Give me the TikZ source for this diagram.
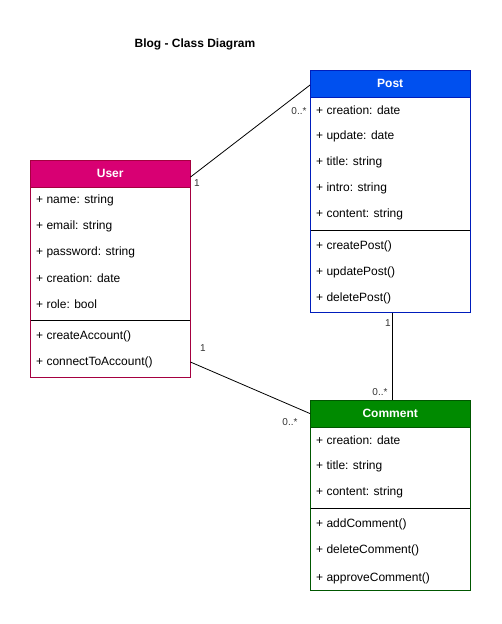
\documentclass[tikz,border=0pt]{standalone}
\usepackage{fontspec}
\setmainfont{Liberation Sans}
\definecolor{uFill}{HTML}{D80073}\definecolor{uLine}{HTML}{A50040}
\definecolor{pFill}{HTML}{0050EF}\definecolor{pLine}{HTML}{001DBC}
\definecolor{cFill}{HTML}{008A00}\definecolor{cLine}{HTML}{005700}
\begin{document}
\begin{tikzpicture}[x=1pt,y=-1pt,
  hdr/.style={draw, anchor=north west, minimum width=160pt, minimum height=26.7pt, inner sep=0pt, text=white, font=\bfseries\fontsize{12}{14}\selectfont},
  body/.style={draw, anchor=north west, minimum width=160pt, inner sep=0pt, fill=white},
  attr/.style={anchor=west, inner sep=0pt, font=\fontsize{12}{14}\selectfont},
  mult/.style={inner sep=0pt, text=black!80, font=\fontsize{10}{12}\selectfont},
  sep/.style={draw=black, line width=0.8pt},
  conn/.style={draw=black, line width=0.8pt}]
\useasboundingbox (0,0) rectangle (501,624);
\node[font=\bfseries\fontsize{12}{14}\selectfont] (title) at (195,44) {Blog - Class Diagram};
% User
\node[body, draw=uLine, minimum height=190pt] (userB) at (30,186.7) {};
\node[hdr, fill=uFill, draw=uLine] (userH) at (30,160) {User};
\node[attr] (u1) at (36,200) {+ name: string};
\node[attr] (u2) at (36,226) {+ email: string};
\node[attr] (u3) at (36,252) {+ password: string};
\node[attr] (u4) at (36,278) {+ creation: date};
\node[attr] (u5) at (36,304) {+ role: bool};
\coordinate (uS1) at (30.5,320.7); \coordinate (uS2) at (189.5,320.7);
\draw[sep] (uS1) -- (uS2);
\node[attr] (u6) at (36,336) {+ createAccount()};
\node[attr] (u7) at (36,362) {+ connectToAccount()};
% Post
\node[body, draw=pLine, minimum height=215.6pt] (postB) at (310,96.7) {};
\node[hdr, fill=pFill, draw=pLine] (postH) at (310,70) {Post};
\node[attr] (p1) at (316,110) {+ creation: date};
\node[attr] (p2) at (316,136) {+ update: date};
\node[attr] (p3) at (316,162) {+ title: string};
\node[attr] (p4) at (316,188) {+ intro: string};
\node[attr] (p5) at (316,214) {+ content: string};
\coordinate (pS1) at (310.5,230.7); \coordinate (pS2) at (469.5,230.7);
\draw[sep] (pS1) -- (pS2);
\node[attr] (p6) at (316,246) {+ createPost()};
\node[attr] (p7) at (316,272) {+ updatePost()};
\node[attr] (p8) at (316,298) {+ deletePost()};
% Comment
\node[body, draw=cLine, minimum height=163.3pt] (comB) at (310,426.7) {};
\node[hdr, fill=cFill, draw=cLine] (comH) at (310,400) {Comment};
\node[attr] (c1) at (316,440) {+ creation: date};
\node[attr] (c2) at (316,466) {+ title: string};
\node[attr] (c3) at (316,492) {+ content: string};
\coordinate (cS1) at (310.5,508.3); \coordinate (cS2) at (469.5,508.3);
\draw[sep] (cS1) -- (cS2);
\node[attr] (c4) at (316,524) {+ addComment()};
\node[attr] (c5) at (316,550) {+ deleteComment()};
\node[attr] (c6) at (316,578) {+ approveComment()};
% connectors
\draw[conn] ([yshift=10pt]userH.south east) -- ([yshift=-1.5pt]postH.west);
\draw[conn] (userB.east |- u7) -- (comH.west);
\draw[conn] ([xshift=2pt]postB.south) -- ([xshift=2pt]comH.north);
% multiplicities
\node[mult] (m1) at (197,183) {1};
\node[mult] (m2) at (299,111) {0..*};
\node[mult] (m3) at (203,348) {1};
\node[mult] (m4) at (290,422) {0..*};
\node[mult] (m5) at (388,323) {1};
\node[mult] (m6) at (380,392) {0..*};
\end{tikzpicture}
\end{document}
